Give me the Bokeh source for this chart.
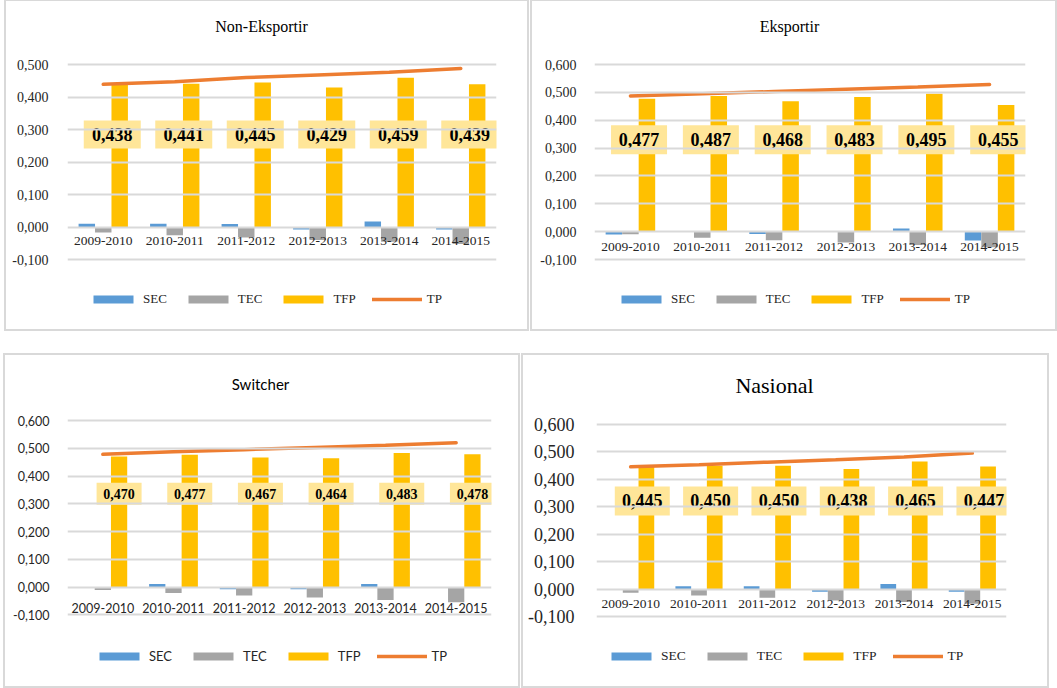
from bokeh.plotting import figure
from bokeh.models import (Range1d, FixedTicker, CustomJSTickFormatter, Legend, LegendItem,
                          ColumnDataSource, Label)
from bokeh.transform import dodge
from bokeh.layouts import row, column
from bokeh.core.properties import value
from bokeh.embed import file_html
from bokeh.resources import INLINE

categories = ["2009-2010", "2010-2011", "2011-2012", "2012-2013", "2013-2014", "2014-2015"]
y_ticks = [-0.1, 0.0, 0.1, 0.2, 0.3, 0.4, 0.5, 0.6]

# Non-Eksportir
ne_sec = [0.010, 0.010, 0.009, -0.008, 0.017, -0.008]
ne_tec = [-0.017, -0.025, -0.032, -0.040, -0.045, -0.052]
ne_tfp = [0.438, 0.441, 0.445, 0.429, 0.459, 0.439]
ne_tp = [0.439, 0.447, 0.460, 0.468, 0.476, 0.488]

# Eksportir
ek_sec = [-0.010, 0.002, -0.008, 0.002, 0.011, -0.032]
ek_tec = [-0.009, -0.022, -0.031, -0.039, -0.048, -0.056]
ek_tfp = [0.477, 0.487, 0.468, 0.483, 0.495, 0.455]
ek_tp = [0.487, 0.495, 0.503, 0.511, 0.519, 0.528]

# Switcher
sw_sec = [-0.002, 0.011, -0.008, -0.008, 0.011, -0.002]
sw_tec = [-0.011, -0.021, -0.030, -0.038, -0.047, -0.055]
sw_tfp = [0.470, 0.477, 0.467, 0.464, 0.483, 0.478]
sw_tp = [0.478, 0.487, 0.495, 0.503, 0.511, 0.520]

# Nasional
na_sec = [-0.002, 0.012, 0.012, -0.008, 0.020, -0.008]
na_tec = [-0.012, -0.022, -0.030, -0.040, -0.046, -0.052]
na_tfp = [0.445, 0.450, 0.450, 0.438, 0.465, 0.447]
na_tp = [0.446, 0.454, 0.463, 0.472, 0.482, 0.496]

C_SEC = "#5B9BD5"
C_TEC = "#A5A5A5"
C_TFP = "#FFC000"
C_TP = "#ED7D31"
C_BOX = "#FFE699"
C_GRID = "#D9D9D9"
C_TXT = "#262626"

SERIF = "Liberation Serif"
SANS = "Lato"
PAD = 2  # frame inset from panel edge (top/bottom)


def panel(title, sec, tec, tfp, tp, ymax, width, height, bl, br, st):
    # frame fills the panel vertically; ymax gridline sits st["grid_top"] px below panel top
    y_end = ymax + (st["grid_top"] - PAD) / st["ppu"]
    y_start = y_end - (height - 2 * PAD) / st["ppu"]
    src = ColumnDataSource(dict(cat=categories, sec=sec, tec=tec, tfp=tfp, tp=tp,
                                lab=[f"{v:.3f}".replace(".", ",") for v in tfp]))
    p = figure(x_range=categories, y_range=Range1d(y_start, y_end), width=width, height=height,
               output_backend="svg", toolbar_location=None,
               min_border_left=bl, min_border_right=br, min_border_top=PAD, min_border_bottom=PAD)
    p.outline_line_color = None
    p.title.visible = False
    p.styles = {"outline": "2px solid #D9D9D9"}

    ticker = FixedTicker(ticks=[t for t in y_ticks if t <= ymax + 1e-9])
    p.xgrid.grid_line_color = None
    p.ygrid.ticker = ticker
    p.ygrid.grid_line_color = C_GRID
    p.ygrid.grid_line_width = 2
    p.ygrid.level = "glyph"

    r_sec = p.vbar(x=dodge("cat", -0.23, range=p.x_range), top="sec", width=0.23, source=src,
                   fill_color=C_SEC, line_color=None)
    r_tec = p.vbar(x=dodge("cat", 0.0, range=p.x_range), top="tec", width=0.23, source=src,
                   fill_color=C_TEC, line_color=None)
    r_tfp = p.vbar(x=dodge("cat", 0.23, range=p.x_range), top="tfp", width=0.23, source=src,
                   fill_color=C_TFP, line_color=None)
    r_tp = p.line(x="cat", y="tp", source=src, line_color=C_TP, line_width=3.5, line_cap="round")

    lx = dodge("cat", st["lab_dx"], range=p.x_range)
    p.rect(x=lx, y=st["lab_y"], width=st["box_w"], height=st["box_h"], width_units="screen",
           height_units="screen", source=src, fill_color=C_BOX, line_color=None)
    p.text(x=lx, y=st["lab_y"], text="lab", source=src, text_align="center",
           text_baseline="middle", text_font=value(SERIF), text_font_style="bold",
           text_font_size=st["lab_fs"], text_color="black")

    # y axis
    p.yaxis.ticker = ticker
    p.yaxis.formatter = CustomJSTickFormatter(code="return tick.toFixed(3).replace('.', ',');")
    p.yaxis.axis_line_color = None
    p.yaxis.major_tick_line_color = None
    p.yaxis.minor_tick_line_color = None
    p.yaxis.major_label_standoff = st["y_standoff"]
    p.yaxis.major_label_text_font = st["tick_font"]
    p.yaxis.major_label_text_font_size = st["tick_fs"]
    p.yaxis.major_label_text_color = C_TXT

    # x axis at zero
    p.xaxis.fixed_location = 0
    p.xaxis.level = "glyph"
    p.xaxis.axis_line_color = None
    p.xaxis.major_tick_line_color = None
    p.xaxis.minor_tick_line_color = None
    p.xaxis.major_label_standoff = st["x_standoff"]
    p.xaxis.major_label_text_font = st["x_font"]
    p.xaxis.major_label_text_font_size = st["x_fs"]
    p.xaxis.major_label_text_color = C_TXT
    p.xaxis.major_label_orientation = "horizontal"

    tx, ty = st["title_xy"]
    p.add_layout(Label(x=tx, y=height - PAD - ty, x_units="screen", y_units="screen",
                       text=title, text_align="center", text_baseline="middle",
                       text_font=st["title_font"], text_font_size=st["title_fs"],
                       text_color="black"))

    lgx, lgy = st["leg_xy"]
    leg = Legend(items=[LegendItem(label="SEC", renderers=[r_sec]),
                        LegendItem(label="TEC", renderers=[r_tec]),
                        LegendItem(label="TFP", renderers=[r_tfp]),
                        LegendItem(label="TP", renderers=[r_tp])],
                 orientation="horizontal", location=(lgx, height - PAD - lgy - 7),
                 glyph_width=50, glyph_height=10, label_standoff=5, spacing=16,
                 padding=0, margin=0, border_line_color=None, background_fill_alpha=0,
                 label_text_font=st["leg_font"], label_text_font_size=st["leg_fs"],
                 label_text_color=C_TXT, label_height=14)
    p.add_layout(leg)
    return p


# title_xy: title centre (x from frame left, y from panel top); leg_xy: legend (x from frame
# left, centre y from panel top)
st_ne = dict(ppu=325.0, grid_top=63, lab_dx=0.126, lab_y=0.285, box_w=57, box_h=28,
             lab_fs="18px", y_standoff=13, tick_font=SERIF, tick_fs="14px", x_standoff=4,
             x_font=SERIF, x_fs="13.5px", title_font=SERIF, title_fs="16px", title_xy=(194, 25),
             leg_xy=(21, 299), leg_font=SERIF, leg_fs="13px")
st_ek = dict(ppu=278.6, grid_top=63, lab_dx=0.12, lab_y=0.33, box_w=56, box_h=29,
             lab_fs="18px", y_standoff=12, tick_font=SERIF, tick_fs="14px", x_standoff=5,
             x_font=SERIF, x_fs="13.5px", title_font=SERIF, title_fs="16px", title_xy=(195, 25),
             leg_xy=(22, 299), leg_font=SERIF, leg_fs="13px")
st_sw = dict(ppu=277.6, grid_top=65, lab_dx=0.23, lab_y=0.336, box_w=45, box_h=22,
             lab_fs="14px", y_standoff=12, tick_font=SANS, tick_fs="12.5px", x_standoff=10,
             x_font=SANS, x_fs="12.5px", title_font=SANS, title_fs="15px", title_xy=(193, 28),
             leg_xy=(27, 302), leg_font=SANS, leg_fs="13px")
st_na = dict(ppu=274.9, grid_top=69, lab_dx=0.17, lab_y=0.322, box_w=55, box_h=29,
             lab_fs="18px", y_standoff=16, tick_font=SERIF, tick_fs="18px", x_standoff=5,
             x_font=SERIF, x_fs="13.5px", title_font=SERIF, title_fs="22px",
             title_xy=(178, 30), leg_xy=(10, 302), leg_font=SERIF, leg_fs="13.5px")

p1 = panel("Non-Eksportir", ne_sec, ne_tec, ne_tfp, ne_tp, 0.5, 521, 328, 61, 31, st_ne)
p2 = panel("Eksportir", ek_sec, ek_tec, ek_tfp, ek_tp, 0.6, 523, 328, 62, 30, st_ek)
p3 = panel("Switcher", sw_sec, sw_tec, sw_tfp, sw_tp, 0.6, 513, 331, 62, 27, st_sw)
p4 = panel("Nasional", na_sec, na_tec, na_tfp, na_tp, 0.6, 524, 331, 73, 41, st_na)

layout = column(row(p1, p2, spacing=5, margin=(1, 0, 0, 6)),
                row(p3, p4, spacing=5, margin=(0, 0, 0, 5)), spacing=26)
open("out.html", "w").write(file_html(layout, INLINE))
